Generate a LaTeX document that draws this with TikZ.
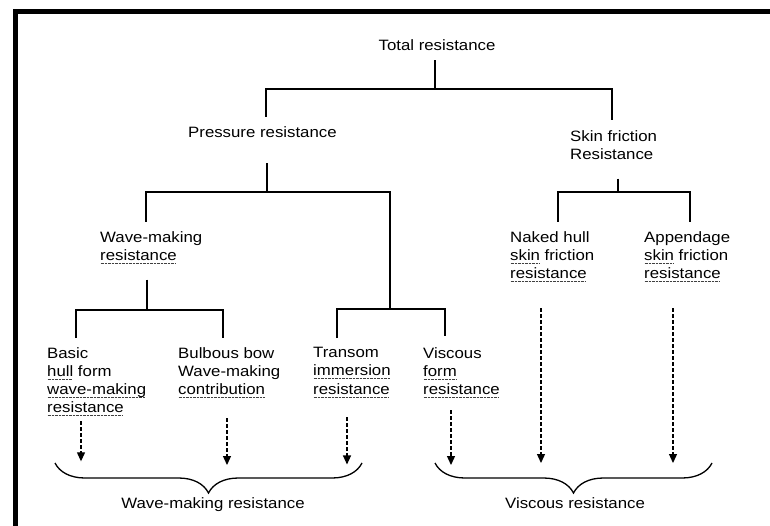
\documentclass[tikz,border=0pt]{standalone}
\usepackage{fontspec}
\setmainfont{Liberation Sans}[FakeStretch=1.12]
\usetikzlibrary{calc,arrows.meta,decorations.pathreplacing}
\newcommand\dul[1]{\leavevmode\setbox0=\hbox{#1}\rlap{\raisebox{-3pt}[0pt][0pt]{\color{black!75}\hbox to \wd0{\leaders\hbox to 1.4pt{\hss\rule{0.8pt}{0.6pt}\hss}\hfill}}}\box0\relax}
\begin{document}
\begin{tikzpicture}[x=1pt,y=-1pt,
  lbl/.style={inner sep=0pt, font=\fontsize{15}{18.3}\selectfont},
  blk/.style={lbl, align=left, anchor=north west},
  tree/.style={line width=1.2pt},
  darr/.style={line width=1.2pt, dash pattern=on 3.5pt off 2.5pt, -{Triangle[width=8pt,length=9pt]}},
  brc/.style={decorate, decoration={brace, amplitude=30pt, aspect=0.5}, line width=1.3pt}]
\useasboundingbox (0,0) rectangle (770,526);
\fill[white] (0,0) rectangle (770,526);
% frame
\draw[line width=4.5pt, line join=miter] (15.3,526) -- (15.3,11.5) -- (770,11.5);

% nodes
\node[lbl, anchor=base] (total) at (437,51) {Total resistance};
\node[lbl, anchor=base west] (press) at (188,138) {Pressure resistance};
\node[blk] (skin) at (570,130) {Skin friction\\Resistance};
\node[blk] (wm) at (100,231) {Wave-making\\\dul{resistance}};
\node[blk] (naked) at (510,231) {Naked hull\\\dul{skin} friction\\\dul{resistance}};
\node[blk] (app) at (644,231) {Appendage\\\dul{skin} friction\\\dul{resistance}};
\node[blk] (basic) at (47,347) {Basic\\\dul{hull} form\\\dul{wave-making}\\\dul{resistance}};
\node[blk] (bulb) at (178,347) {Bulbous bow\\Wave-making\\\dul{contribution}};
\node[blk] (transom) at (313,347) {Transom\\\dul{immersion}\\\dul{resistance}};
\node[blk] (visc) at (423,347) {Viscous\\\dul{form}\\\dul{resistance}};
\node[lbl, anchor=base] (wmr) at (213,508) {Wave-making resistance};
\node[lbl, anchor=base] (vr) at (575,508) {Viscous resistance};

% junctions
\coordinate (j1) at (435,89);
\coordinate (j2) at (267,192);
\coordinate (j3) at (390,309);
\coordinate (j4) at (147,310);
\coordinate (j5) at (618,192);

% tree
\draw[tree] ($(total.south)+(-2,9)$) -- (j1);
\draw[tree] ($(press.north west)+(78,-10)$) |- (j1) -| ($(skin.north west)+(42,-10)$);
\draw[tree] ($(press.south west)+(79,25)$) -- (j2);
\draw[tree] ($(wm.north west)+(46,-9)$) |- (j2) -| (j3);
\draw[tree] ($(transom.north west)+(24,-9)$) |- (j3) -| ($(visc.north west)+(22,-11)$);
\draw[tree] ($(wm.south west)+(47,19)$) -- (j4);
\draw[tree] ($(basic.north west)+(29,-9)$) |- (j4) -| ($(bulb.north west)+(45,-9)$);
\draw[tree] ($(skin.south west)+(48,19)$) -- (j5);
\draw[tree] ($(naked.north west)+(48,-9)$) |- (j5) -| ($(app.north west)+(46,-9)$);

% dashed arrows
\draw[darr] ($(basic.south west)+(34,8)$) -- ++(0,40);
\draw[darr] ($(bulb.south west)+(49,23)$) -- ++(0,47);
\draw[darr] ($(transom.south west)+(34,23)$) -- ++(0,47);
\draw[darr] ($(visc.south west)+(28,15)$) -- ++(0,55);
\draw[darr] ($(naked.south west)+(31,29)$) -- ++(0,155);
\draw[darr] ($(app.south west)+(29,29)$) -- ++(0,155);

% braces
\draw[brc] (362,463) -- (55,463);
\draw[brc] (712,463) -- (435,463);
\end{tikzpicture}
\end{document}
